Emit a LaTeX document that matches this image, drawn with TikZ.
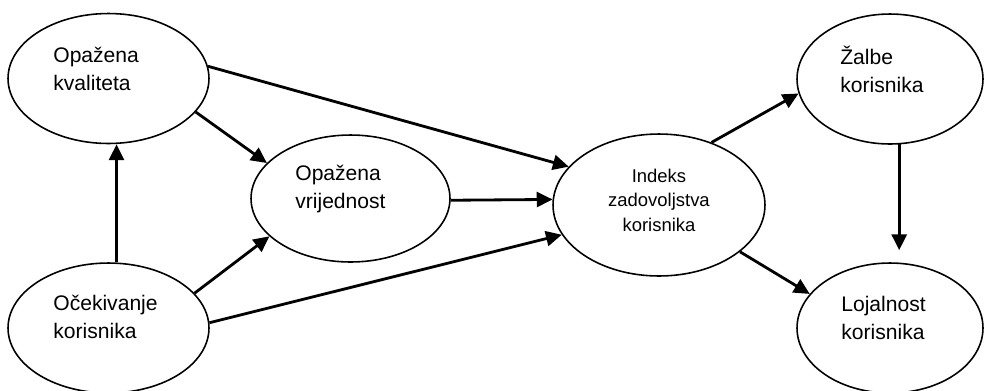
\documentclass[tikz,border=0pt]{standalone}
\usepackage{fontspec}
\setmainfont{Liberation Sans}
\usetikzlibrary{arrows.meta, shapes.geometric}

\begin{document}
\begin{tikzpicture}[
  x=0.02cm, y=-0.02cm,
  oval/.style={ellipse, draw=black, line width=0.9pt, inner sep=0pt, minimum width=4.02cm, minimum height=2.6cm},
  txt/.style={inner sep=0pt, align=left, anchor=west, font=\fontsize{12}{15.9}\selectfont},
  arrow/.style={-{Triangle[length=9pt, width=8.5pt]}, line width=1.6pt}
]
\useasboundingbox (0,0) rectangle (985,390);

\node[oval] (kval) at (108.5,78.5) {};
\node[oval] (ocek) at (108.5,328) {};
\node[oval, minimum width=3.98cm, minimum height=2.54cm] (vrij) at (350.5,198.5) {};
\node[oval, minimum width=4.24cm, minimum height=2.84cm] (indeks) at (659,205) {};
\node[oval, minimum width=3.72cm] (zalbe) at (890,79) {};
\node[oval, minimum width=3.72cm] (lojal) at (890,328) {};

\node[txt] (kval-t) at (53,69) {Opažena\\kvaliteta};
\node[txt] (ocek-t) at (53,317) {Očekivanje\\korisnika};
\node[txt] (vrij-t) at (295,189) {Opažena\\vrijednost};
\node[txt, anchor=center, align=center, font=\fontsize{10.5}{13.9}\selectfont] (indeks-t) at (659,200) {Indeks\\zadovoljstva\\korisnika};
\node[txt] (zalbe-t) at (840,69) {Žalbe\\korisnika};
\node[txt] (lojal-t) at (841,318) {Lojalnost\\korisnika};

\draw[arrow] (kval.7) -- (indeks.157);
\draw[arrow] (kval.-21) -- (vrij.157);
\draw[arrow] (ocek.83) -- (ocek.83 |- kval.south);
\draw[arrow] (ocek.22) -- (vrij.-155);
\draw[arrow] (ocek.3) -- (indeks.-163);
\draw[arrow] (vrij.-1) -- (indeks.177);
\draw[arrow] (indeks.50) -- (zalbe.-171);
\draw[arrow] (indeks.-30) -- (lojal.157);
\draw[arrow, shorten >=0.24cm] (zalbe.-82) -- (zalbe.-82 |- lojal.north);
\end{tikzpicture}
\end{document}
